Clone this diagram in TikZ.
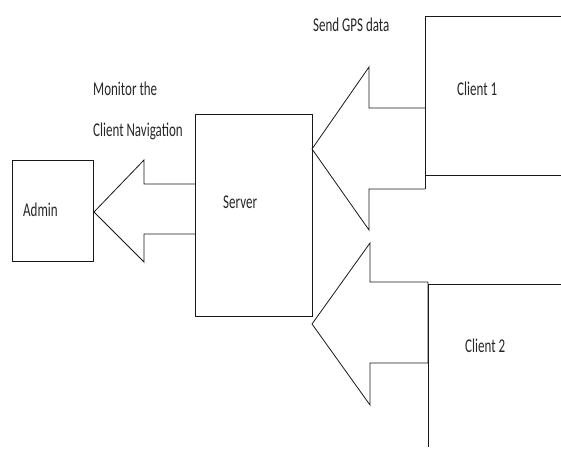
\documentclass[tikz,border=0pt]{standalone}
\usepackage{fontspec}
\setmainfont{Carlito}
\usepackage{tikz}
\usetikzlibrary{positioning}
\newcommand{\textStretch}{1.5}
\newcommand{\tallText}[1]{\scalebox{1}[\textStretch]{#1}}
\tikzset{
  outline/.style={draw=black!90, line width=0.8pt, line join=miter},
  lblText/.style={inner sep=0pt, anchor=base west, text=black!85,
    font=\fontsize{13}{15}\selectfont}
}

\begin{document}
\begin{tikzpicture}[x=1pt,y=-1pt]
\useasboundingbox (0,0) rectangle (561,449);
% boxes
\draw[outline] (12,160) rectangle (93,261);
\draw[outline] (195,114) rectangle (312,316);
\draw[outline] (561,16) -- (425,16) -- (425,189);
\draw[outline] (425,175) -- (561,175);
\draw[outline] (561,284) -- (428,284) -- (428,447);
% block arrows
\draw[outline] (195,184) -- (144,184) -- (144,160) -- (94,212) -- (144,262) -- (144,234) -- (195,234);
\draw[outline] (425,108) -- (369,108) -- (369,67) -- (312,149) -- (369,230) -- (369,189) -- (425,189);
\draw[outline] (428,282) -- (370,282) -- (370,243) -- (312,324) -- (370,405) -- (370,363) -- (428,363) -- (428,282);
% texts
\node[lblText] (admin) at (23,216) {\tallText{Admin}};
\node[lblText] (server) at (223,208) {\tallText{Server}};
\node[lblText] (clientOne) at (457,96) {\tallText{Client 1}};
\node[lblText] (clientTwo) at (465,352) {\tallText{Client 2}};
\node[lblText] (monitorA) at (93,96) {\tallText{Monitor the}};
\node[lblText] (monitorB) at (93,136) {\tallText{Client Navigation}};
\node[lblText] (sendGps) at (313,32) {\tallText{Send GPS data}};
\end{tikzpicture}
\end{document}
